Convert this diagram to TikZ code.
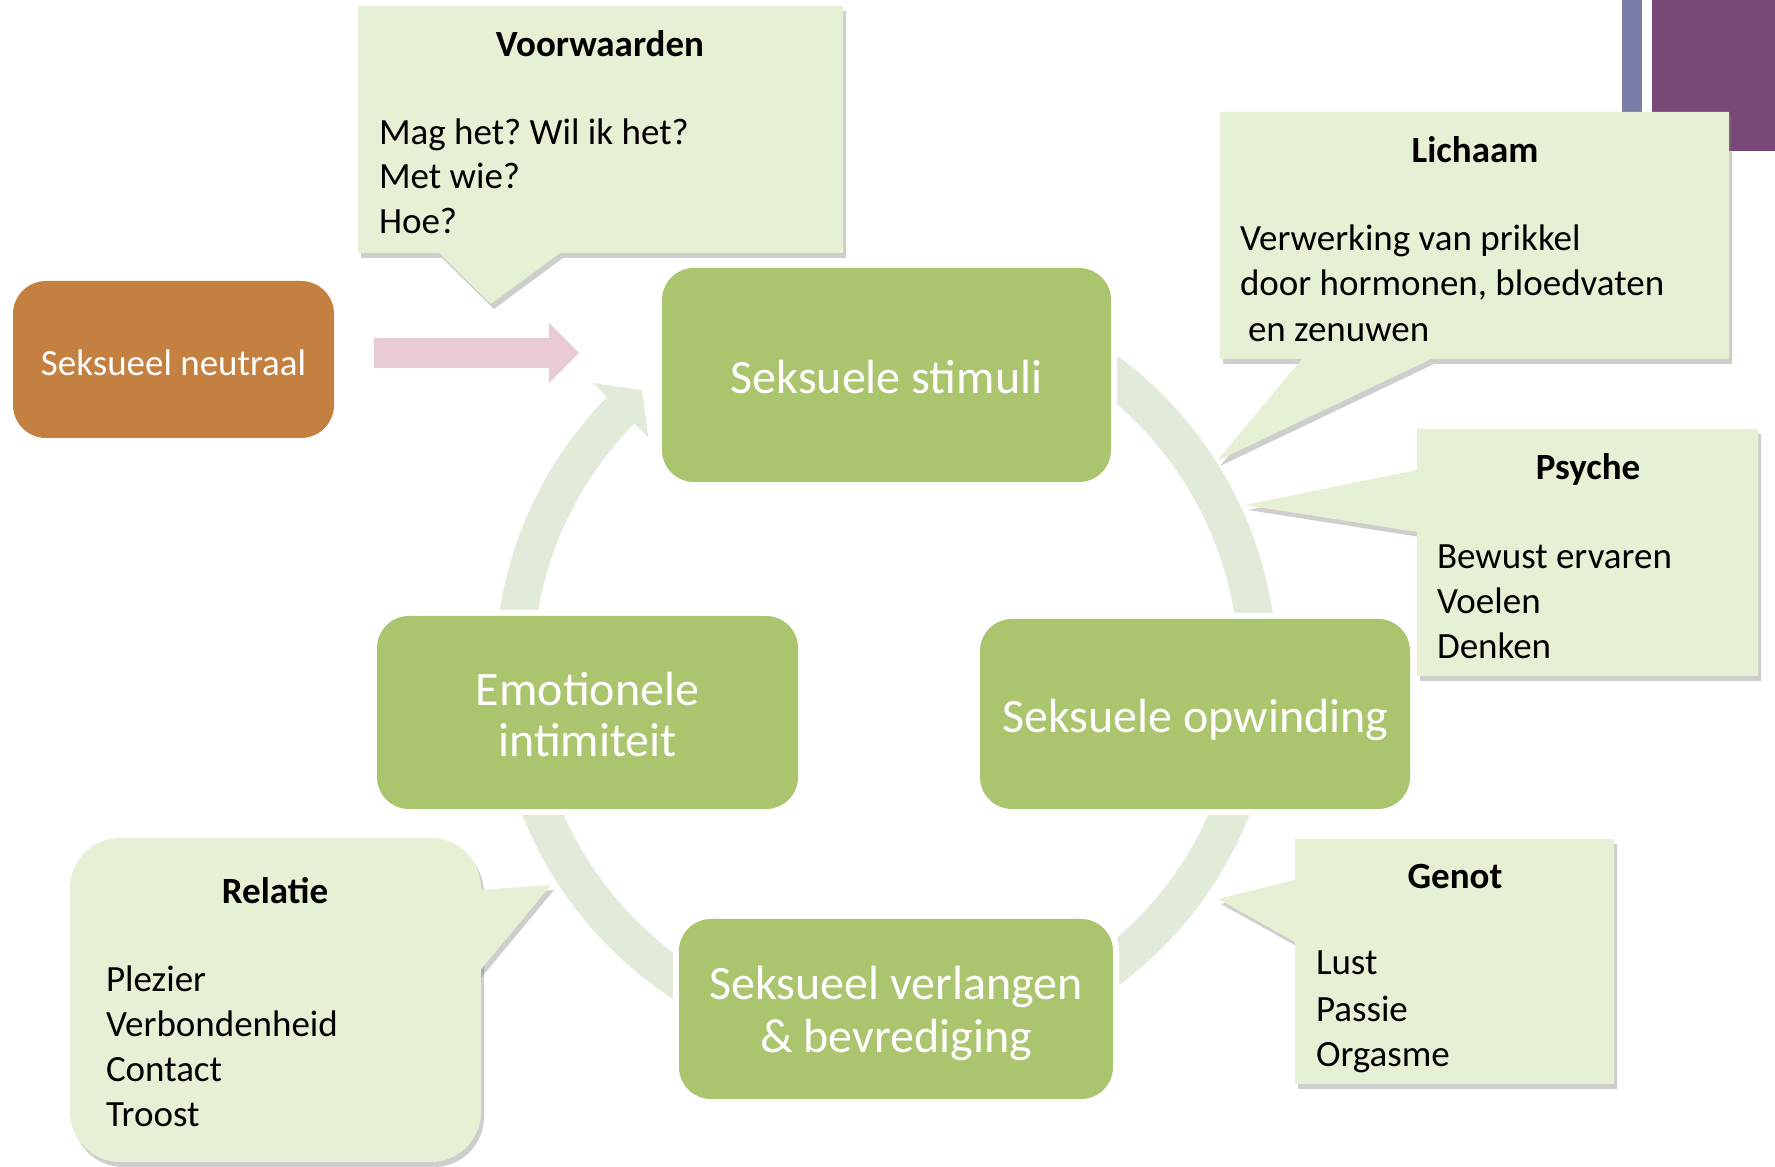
\documentclass[tikz,border=0pt]{standalone}
\usepackage{fontspec}
\setmainfont{Carlito}
\frenchspacing
\usetikzlibrary{arrows.meta,shadows}

\tikzset{
  stage/.style={fill=stageColor,preaction={draw=white,line width=12pt},rounded corners=32pt,inner sep=0pt,outer sep=0pt},
  stagetext/.style={text=white,anchor=base,inner sep=0pt,outer sep=0pt,font=\fontsize{48}{51}\selectfont},
  bubble/.style={fill=bubbleColor,drop shadow={shadow xshift=3pt,shadow yshift=-5pt,opacity=0.35,fill=black!55}},
  bubbletitle/.style={text=black,anchor=base,inner sep=0pt,outer sep=0pt,font=\fontsize{37}{45}\selectfont\bfseries},
  bubbletext/.style={text=black,anchor=base west,inner sep=0pt,outer sep=0pt,font=\fontsize{37}{45}\selectfont},
  ring/.style={draw=ringColor,line width=38pt},
  push/.style={draw=pushColor,line width=30pt,-{Triangle[length=30pt,width=60pt,line width=0pt]}}
}

\begin{document}
\begin{tikzpicture}[x=1pt,y=1pt]
\definecolor{stageColor}{RGB}{171,196,110}
\definecolor{bubbleColor}{RGB}{230,240,213}
\definecolor{ringColor}{RGB}{226,235,218}
\definecolor{pushColor}{RGB}{233,203,214}
\definecolor{neutralColor}{RGB}{196,128,64}
\definecolor{barColor}{RGB}{123,125,168}
\definecolor{plumColor}{RGB}{121,72,119}
\path[use as bounding box,fill=white] (0,0) rectangle (1775,1167);

\fill[barColor] (1622,1017) rectangle (1642,1167);
\fill[plumColor] (1652,1016) rectangle (1775,1167);

% cycle
\coordinate (hub) at (886,496);
\draw[ring] ([shift={(135.5:372)}]hub) arc[start angle=135.5,end angle=420,radius=372];
\fill[ringColor] ([shift={(135.5:411)}]hub) -- ([shift={(131:372)}]hub) -- ([shift={(135.5:333)}]hub) -- cycle;

\node[stage,minimum width=449pt,minimum height=214pt] (stimuli) at (886.5,792) {};
\node[stage,minimum width=421pt,minimum height=193pt] (intimiteit) at (587.5,454.5) {};
\node[stage,minimum width=430pt,minimum height=190pt] (opwinding) at (1195,453) {};
\node[stage,minimum width=434pt,minimum height=180pt] (verlangen) at (896,158) {};
\node[fill=neutralColor,rounded corners=33pt,inner sep=0pt,outer sep=0pt,minimum width=321pt,minimum height=157pt] (neutraal) at (173.5,807.5) {};

\draw[push] ([shift={(40,6.5)}]neutraal.east) -- ([shift={(-83,22)}]stimuli.west);

\node[stagetext] (stimuliText) at (886.5,773) {Seksuele stimuli};
\node[stagetext] (intimiteitTextA) at (587.5,461) {Emotionele};
\node[stagetext] (intimiteitTextB) at (587.5,410) {intimiteit};
\node[stagetext] (opwindingText) at (1195.5,434) {Seksuele opwinding};
\node[stagetext] (verlangenTextA) at (896,167) {Seksueel verlangen};
\node[stagetext] (verlangenTextB) at (896,114) {\& bevrediging};
\node[stagetext,font=\fontsize{37}{45}\selectfont] (neutraalText) at (173.5,791) {Seksueel neutraal};

% callouts
\coordinate (voorTip) at (491,863);
\path[bubble] (358,914) -- (439,914) -- (voorTip) -- (560,914) -- (843,914) -- (843,1161) -- (358,1161) -- cycle;
\node[bubbletitle] (voorTitle) at (600,1110) {Voorwaarden};
\node[bubbletext] (voorA) at (379,1022) {Mag het? Wil ik het?};
\node[bubbletext] (voorB) at (379,978) {Met wie?};
\node[bubbletext] (voorC) at (379,933) {Hoe?};

\coordinate (lichaamTip) at (1217,706);
\path[bubble] (1220,808) -- (1302,808) -- (lichaamTip) -- (1431,808) -- (1729,808) -- (1729,1055) -- (1220,1055) -- cycle;
\node[bubbletitle] (lichaamTitle) at (1475,1004) {Lichaam};
\node[bubbletext] (lichaamA) at (1240,916) {Verwerking van prikkel};
\node[bubbletext] (lichaamB) at (1240,871) {door hormonen, bloedvaten};
\node[bubbletext] (lichaamC) at (1248,825) {en zenuwen};

\coordinate (psycheTip) at (1245,662);
\path[bubble] (1417,491) -- (1758,491) -- (1758,738) -- (1417,738) -- (1417,697) -- (psycheTip) -- (1417,635) -- cycle;
\node[bubbletitle] (psycheTitle) at (1588,687) {Psyche};
\node[bubbletext] (psycheA) at (1437,598) {Bewust ervaren};
\node[bubbletext] (psycheB) at (1437,553) {Voelen};
\node[bubbletext] (psycheC) at (1437,508) {Denken};

\coordinate (genotTip) at (1218,268);
\path[bubble] (1295,83) -- (1614,83) -- (1614,328) -- (1295,328) -- (1295,287) -- (genotTip) -- (1295,225) -- cycle;
\node[bubbletitle] (genotTitle) at (1455,278) {Genot};
\node[bubbletext] (genotA) at (1316,192) {Lust};
\node[bubbletext] (genotB) at (1316,145) {Passie};
\node[bubbletext] (genotC) at (1316,100) {Orgasme};

\node[bubble,rounded corners=50pt,inner sep=0pt,outer sep=0pt,minimum width=411pt,minimum height=324pt] (relatieBox) at (275.5,167) {};
\coordinate (relatieTip) at (551,282);
\path[bubble] ([shift={(-3,110)}]relatieBox.east) -- (relatieTip) -- ([shift={(-3,27)}]relatieBox.east) -- cycle;
\node[bubbletitle] (relatieTitle) at (275,263) {Relatie};
\node[bubbletext] (relatieA) at (106,175) {Plezier};
\node[bubbletext] (relatieB) at (106,130) {Verbondenheid};
\node[bubbletext] (relatieC) at (106,85) {Contact};
\node[bubbletext] (relatieD) at (106,40) {Troost};
\end{tikzpicture}
\end{document}
